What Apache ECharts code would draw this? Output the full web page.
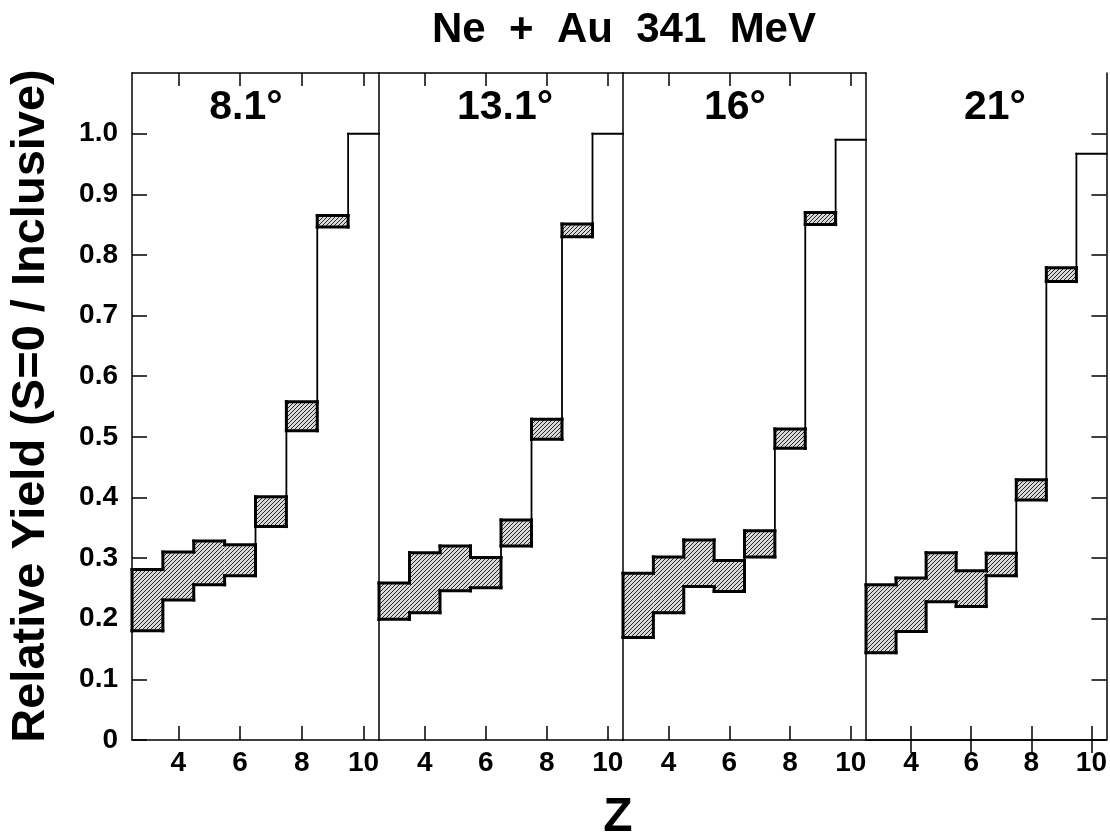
<!DOCTYPE html>
<html>
<head>
<meta charset="utf-8">
<script src="https://cdn.jsdelivr.net/npm/echarts@6/dist/echarts.min.js"></script>
<style>
  html, body { margin: 0; padding: 0; background: #fff; }
  #chart { width: 1110px; height: 837px; }
</style>
</head>
<body>
<div id="chart"></div>
<script>
// ---- data ----
const zValues = [3, 4, 5, 6, 7, 8, 9, 10];
const panelNames = ['8.1°', '13.1°', '16°', '21°'];
const low81   = [0.180, 0.231, 0.256, 0.271, 0.352, 0.510, 0.846, 1.000];
const high81  = [0.281, 0.310, 0.328, 0.322, 0.401, 0.558, 0.865, 1.000];
const low131  = [0.199, 0.210, 0.246, 0.251, 0.320, 0.496, 0.830, 1.000];
const high131 = [0.259, 0.309, 0.320, 0.301, 0.363, 0.529, 0.851, 1.000];
const low16   = [0.169, 0.210, 0.253, 0.245, 0.302, 0.481, 0.850, 0.990];
const high16  = [0.275, 0.302, 0.330, 0.296, 0.345, 0.513, 0.870, 0.990];
const low21   = [0.144, 0.179, 0.228, 0.220, 0.271, 0.396, 0.756, 0.967];
const high21  = [0.256, 0.267, 0.309, 0.279, 0.308, 0.429, 0.779, 0.967];
const xTickValues = [4, 6, 8, 10];
const yTickValues = [0, 0.1, 0.2, 0.3, 0.4, 0.5, 0.6, 0.7, 0.8, 0.9, 1.0];

const panelLows = [low81, low131, low16, low21];
const panelHighs = [high81, high131, high16, high21];

// ---- layout ----
const panelLeft = [132, 379, 623, 866];
const panelWidth = [247, 244, 243, 243];
const gridTop = 73, gridHeight = 667;
const FONT = '"Liberation Sans", Arial, Helvetica, sans-serif';

function makeHatch() {
  const c = document.createElement('canvas');
  c.width = 4; c.height = 4;
  const g = c.getContext('2d');
  g.fillStyle = '#d8d8d8';
  g.fillRect(0, 0, 4, 4);
  g.strokeStyle = '#262626';
  g.lineWidth = 1;
  g.beginPath();
  g.moveTo(0, 4); g.lineTo(4, 0);
  g.moveTo(-1, 1); g.lineTo(1, -1);
  g.moveTo(3, 5); g.lineTo(5, 3);
  g.stroke();
  return c;
}
const hatch = { image: makeHatch(), repeat: 'repeat' };

const THICK = 3, THIN = 1.8;

function makeRender(lows, highs) {
  return function (params, api) {
    const k = params.dataIndex;
    const z = api.value(0), lo = api.value(1), hi = api.value(2);
    const children = [];
    function seg(x1, y1, x2, y2, w) {
      const a = api.coord([x1, y1]), b = api.coord([x2, y2]);
      if (Math.abs(a[0] - b[0]) < 0.01 && Math.abs(a[1] - b[1]) < 0.01) return;
      children.push({
        type: 'line', z2: 10,
        shape: { x1: a[0], y1: a[1], x2: b[0], y2: b[1] },
        style: { stroke: '#000', lineWidth: w, lineCap: 'square' }
      });
    }
    if (hi > lo) {
      const p1 = api.coord([z - 0.5, hi]);
      const p2 = api.coord([z + 0.5, lo]);
      children.push({
        type: 'rect', z2: 1,
        shape: { x: p1[0], y: p1[1], width: p2[0] - p1[0], height: p2[1] - p1[1] },
        style: { fill: hatch }
      });
      seg(z - 0.5, hi, z + 0.5, hi, THICK);
      seg(z - 0.5, lo, z + 0.5, lo, THICK);
    } else {
      seg(z - 0.5, hi, z + 0.5, hi, 2);
    }
    if (k === 0 && hi > lo) seg(z - 0.5, lo, z - 0.5, hi, THICK);
    if (k < lows.length - 1) {
      const lo2 = lows[k + 1], hi2 = highs[k + 1], xb = z + 0.5;
      if (Math.max(lo, lo2) <= Math.min(hi, hi2)) {
        seg(xb, Math.min(lo, lo2), xb, Math.max(lo, lo2), THICK);
        seg(xb, Math.min(hi, hi2), xb, Math.max(hi, hi2), THICK);
      } else {
        if (hi > lo) seg(xb, lo, xb, hi, THICK);
        if (hi2 > lo2) seg(xb, lo2, xb, hi2, THICK);
        if (hi < lo2) seg(xb, hi, xb, lo2, THIN);
        else seg(xb, hi2, xb, lo, THIN);
      }
    }
    return { type: 'group', children: children };
  };
}

const grids = [], xAxes = [], yAxes = [], series = [];
for (let i = 0; i < 4; i++) {
  grids.push({ left: panelLeft[i], width: panelWidth[i], top: gridTop, height: gridHeight });
  xAxes.push({
    type: 'value', gridIndex: i, min: 2.5, max: 10.5, position: 'bottom',
    splitLine: { show: false },
    axisLine: { show: true, lineStyle: { color: '#000', width: 1.5 } },
    axisTick: { show: true, inside: true, length: 14, customValues: xTickValues, lineStyle: { color: '#000', width: 1.5 } },
    axisLabel: { show: true, customValues: xTickValues, margin: 9, color: '#000', fontSize: 28, fontWeight: 'bold', fontFamily: FONT }
  });
  xAxes.push({
    type: 'value', gridIndex: i, min: 2.5, max: 10.5, position: 'top',
    splitLine: { show: false },
    axisLine: { show: true, lineStyle: { color: '#000', width: 1.5 } },
    axisTick: { show: true, inside: true, length: 13, customValues: xTickValues, lineStyle: { color: '#000', width: 1.5 } },
    axisLabel: { show: false }
  });
  yAxes.push({
    type: 'value', gridIndex: i, min: 0, max: 1.1, position: 'left',
    splitLine: { show: false },
    axisLine: { show: true, lineStyle: { color: '#000', width: 1.5 } },
    axisTick: { show: i === 0, inside: true, length: 15, customValues: yTickValues, lineStyle: { color: '#000', width: 1.5 } },
    axisLabel: {
      show: i === 0, customValues: yTickValues, margin: 14, color: '#000',
      fontSize: 28, fontWeight: 'bold', fontFamily: FONT,
      formatter: function (v) { return v === 0 ? '0' : v.toFixed(1); }
    }
  });
}
yAxes.push({
  type: 'value', gridIndex: 3, min: 0, max: 1.1, position: 'right',
  splitLine: { show: false },
  axisLine: { show: true, lineStyle: { color: '#000', width: 1.5 } },
  axisTick: { show: true, inside: true, length: 15, customValues: yTickValues, lineStyle: { color: '#000', width: 1.5 } },
  axisLabel: { show: false }
});

for (let i = 0; i < 4; i++) {
  const lows = panelLows[i], highs = panelHighs[i];
  series.push({
    type: 'custom', name: panelNames[i],
    xAxisIndex: i * 2, yAxisIndex: i,
    renderItem: makeRender(lows, highs),
    encode: { x: 0, y: [1, 2] },
    data: zValues.map(function (z, k) { return [z, lows[k], highs[k]]; }),
    silent: true, clip: false
  });
}

const labelCenters = [246, 505, 735, 995];
const graphics = [
  { type: 'text', x: 624, y: 30, style: { text: 'Ne  +  Au  341  MeV', font: 'bold 42px ' + FONT, fill: '#000', align: 'center', verticalAlign: 'middle' } },
  { type: 'text', x: 31, y: 406, rotation: Math.PI / 2, style: { text: 'Relative Yield (S=0 / Inclusive)', font: 'bold 47px ' + FONT, fill: '#000', align: 'center', verticalAlign: 'middle' } },
  { type: 'text', x: 618, y: 818, style: { text: 'Z', font: 'bold 48px ' + FONT, fill: '#000', align: 'center', verticalAlign: 'middle' } }
];
for (let i = 0; i < 4; i++) {
  graphics.push({ type: 'text', x: labelCenters[i], y: 108, style: { text: panelNames[i], font: 'bold 41px ' + FONT, fill: '#000', align: 'center', verticalAlign: 'middle' } });
}

const chart = echarts.init(document.getElementById('chart'));
chart.setOption({
  animation: false,
  backgroundColor: '#fff',
  grid: grids,
  xAxis: xAxes,
  yAxis: yAxes,
  series: series,
  graphic: graphics
});
</script>
</body>
</html>
